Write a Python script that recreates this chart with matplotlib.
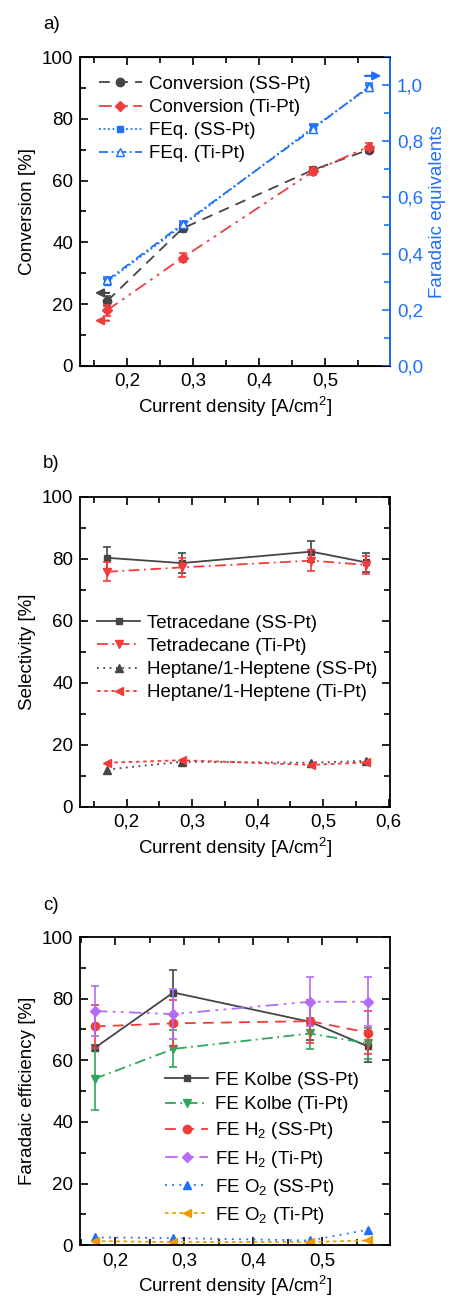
import numpy as np
import matplotlib
matplotlib.use('Agg')
import matplotlib.pyplot as plt
from matplotlib.ticker import MultipleLocator, FuncFormatter

plt.rcParams['font.family'] = ['Liberation Sans', 'DejaVu Sans']
plt.rcParams['font.size'] = 13.5
plt.rcParams['mathtext.fontset'] = 'custom'
plt.rcParams['mathtext.rm'] = 'Liberation Sans'

# current densities
j = [0.17, 0.284, 0.482, 0.566]

# panel a
conv_ss = [21.0, 44.5, 63.5, 70.0]
conv_ss_err = [1.5, 1.2, 1.0, 1.0]
conv_ti = [18.0, 35.0, 63.0, 71.0]
conv_ti_err = [1.8, 1.5, 1.2, 1.2]
feq_ss = [0.30, 0.50, 0.85, 0.99]
feq_ss_err = [0.01, 0.01, 0.01, 0.01]
feq_ti = [0.305, 0.505, 0.845, 0.995]
feq_ti_err = [0.012, 0.012, 0.012, 0.012]

# panel b
tet_ss = [80.3, 78.6, 82.3, 78.8]
tet_ss_err = [3.5, 3.2, 3.3, 3.0]
tet_ti = [75.8, 77.2, 79.4, 78.0]
tet_ti_err = [3.0, 3.0, 3.3, 2.8]
hep_ss = [12.0, 14.5, 14.2, 14.8]
hep_ti = [14.2, 15.0, 13.5, 14.3]

# panel c
kol_ss = [64.0, 82.0, 72.5, 64.5]
kol_ss_err = [1.0, 7.3, 6.0, 5.0]
kol_ti = [54.0, 63.7, 68.7, 65.5]
kol_ti_err = [10.0, 6.0, 5.0, 5.0]
h2_ss = [71.0, 72.0, 72.7, 69.0]
h2_ss_err = [7.0, 7.5, 7.0, 7.0]
h2_ti = [76.0, 75.0, 79.0, 79.0]
h2_ti_err = [8.0, 8.0, 8.0, 8.0]
o2_ss = [2.5, 2.3, 1.5, 5.0]
o2_ti = [1.3, 1.0, 1.0, 1.5]

GRAY = '#454545'
RED = '#f23c3c'
BLUE = '#1f6fff'
GREEN = '#2ea65c'
PURPLE = '#b36cf5'
ORANGE = '#f09a00'

DASH = (0, (6, 4))
DASHDOT = (0, (6, 2.5, 1, 2.5))
DASHDOTDOT = (0, (7, 3, 1.5, 3, 1.5, 3))
DOT = (0, (1, 2.5))
SHORTDASH = (0, (2, 2))

comma = FuncFormatter(lambda v, p: ('%g' % round(v, 3)).replace('.', ','))
comma1 = FuncFormatter(lambda v, p: ('%.1f' % v).replace('.', ','))


def style(ax, xlim, right=True):
    ax.set_xlim(*xlim)
    ax.set_ylim(0, 100)
    ax.xaxis.set_major_locator(MultipleLocator(0.1))
    ax.xaxis.set_minor_locator(MultipleLocator(0.05))
    ax.xaxis.set_major_formatter(comma)
    ax.yaxis.set_major_locator(MultipleLocator(20))
    ax.yaxis.set_minor_locator(MultipleLocator(10))
    ax.tick_params(which='both', direction='in', top=True, right=right)
    ax.tick_params(which='major', length=6, width=1.2, pad=5)
    ax.tick_params(which='minor', length=4, width=1.2)
    for s in ax.spines.values():
        s.set_linewidth(1.3)
    ax.set_xlabel('Current density [A/cm$^2$]', labelpad=3)


def series(ax, y, err, color, marker, ls, label, ms=6, mfc=None):
    if err is not None:
        ax.errorbar(j, y, yerr=err, fmt='none', ecolor=color, elinewidth=1.2,
                    capsize=3, capthick=1.2)
    return ax.plot(j, y, color=color, marker=marker, ms=ms, ls=ls, lw=1.3,
                   mfc=mfc if mfc else color, label=label)[0]


def legend(ax, handles, **kw):
    ax.legend(handles=handles, frameon=False, handlelength=2.3,
              handletextpad=0.35, **kw)


fig = plt.figure(figsize=(4.53, 12.97), dpi=100)
L, W = 0.177, 0.684

# ---------- a ----------
ax = fig.add_axes([L, 0.718, W, 0.238])
style(ax, (0.129, 0.598), right=False)
ha = [series(ax, conv_ss, conv_ss_err, GRAY, 'o', DASH, 'Conversion (SS-Pt)'),
      series(ax, conv_ti, conv_ti_err, RED, 'D', DASHDOTDOT,
             'Conversion (Ti-Pt)', ms=5.5)]
ax.set_ylabel('Conversion [%]')
ax2 = ax.twinx()
ax2.set_ylim(0, 1.1)
ax2.yaxis.set_major_locator(MultipleLocator(0.2))
ax2.yaxis.set_minor_locator(MultipleLocator(0.1))
ax2.yaxis.set_major_formatter(comma1)
ax2.tick_params(which='both', direction='in', colors=BLUE)
ax2.tick_params(which='major', length=6, width=1.2, pad=5)
ax2.tick_params(which='minor', length=4, width=1.2)
ax2.spines['right'].set_color(BLUE)
ax2.spines['right'].set_linewidth(1.3)
ha += [series(ax2, feq_ss, feq_ss_err, BLUE, 's', (0, (1, 1.5)),
              'FEq. (SS-Pt)', ms=5),
       series(ax2, feq_ti, feq_ti_err, BLUE, '^', (0, (5, 2, 1, 2)),
              'FEq. (Ti-Pt)', mfc='white')]
ax2.set_ylabel('Faradaic equivalents', color=BLUE)
legend(ax2, ha, loc='upper left', labelspacing=0.32, borderaxespad=0.6)
arr = dict(arrowstyle='-|>', lw=1.6, mutation_scale=12)
ax.annotate('', xy=(0.147, 23.6), xytext=(0.177, 23.6),
            arrowprops=dict(arr, color=GRAY))
ax.annotate('', xy=(0.147, 14.6), xytext=(0.177, 14.6),
            arrowprops=dict(arr, color=RED))
ax2.annotate('', xy=(0.589, 1.033), xytext=(0.556, 1.033),
             arrowprops=dict(arr, color=BLUE))
fig.text(0.095, 0.981, 'a)', va='center')

# ---------- b ----------
ax = fig.add_axes([L, 0.378, W, 0.239])
style(ax, (0.129, 0.602))
hb = [series(ax, tet_ss, tet_ss_err, GRAY, 's', '-', 'Tetracedane (SS-Pt)',
             ms=5),
      series(ax, tet_ti, tet_ti_err, RED, 'v', DASHDOT, 'Tetradecane (Ti-Pt)'),
      series(ax, hep_ss, None, GRAY, '^', DOT, 'Heptane/1-Heptene (SS-Pt)'),
      series(ax, hep_ti, None, RED, '<', SHORTDASH,
             'Heptane/1-Heptene (Ti-Pt)')]
ax.set_ylabel('Selectivity [%]')
legend(ax, hb, loc='center left', bbox_to_anchor=(0.0, 0.48),
       labelspacing=0.32)
fig.text(0.095, 0.643, 'b)', va='center')

# ---------- c ----------
ax = fig.add_axes([L, 0.040, W, 0.2375])
style(ax, (0.149, 0.598))
hc = [series(ax, kol_ss, kol_ss_err, GRAY, 's', '-', 'FE Kolbe (SS-Pt)',
             ms=5),
      series(ax, kol_ti, kol_ti_err, GREEN, 'v', DASHDOT, 'FE Kolbe (Ti-Pt)'),
      series(ax, h2_ss, h2_ss_err, RED, 'o', DASH, 'FE H$_2$ (SS-Pt)'),
      series(ax, h2_ti, h2_ti_err, PURPLE, 'D', DASHDOTDOT, 'FE H$_2$ (Ti-Pt)',
             ms=5.5),
      series(ax, o2_ss, None, BLUE, '^', (0, (1, 3)), 'FE O$_2$ (SS-Pt)'),
      series(ax, o2_ti, None, ORANGE, '<', SHORTDASH, 'FE O$_2$ (Ti-Pt)')]
ax.set_ylabel('Faradaic efficiency [%]')
legend(ax, hc, loc='lower left', bbox_to_anchor=(0.22, 0.008),
       labelspacing=0.38)
fig.text(0.095, 0.302, 'c)', va='center')

fig.savefig('out.png', dpi=100)
